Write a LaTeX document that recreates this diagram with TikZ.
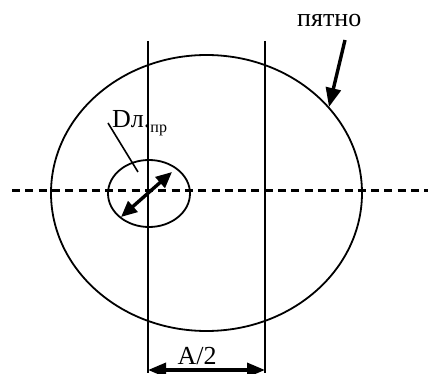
\documentclass[tikz,border=0pt]{standalone}
\usepackage{fontspec}
\setmainfont{Liberation Serif}
\usetikzlibrary{arrows.meta}
\tikzset{
  outline/.style={line width=1.8pt, black},
  axisline/.style={line width=3pt, black, dash pattern=on 8pt off 5.3pt},
  bigarrow/.style={line width=3.4pt, black, -{Triangle[length=19pt,width=15pt]}},
  dblarrow/.style={line width=3.4pt, black, {Triangle[length=16pt,width=14pt]}-{Triangle[length=16pt,width=14pt]}},
  leader/.style={line width=1.6pt, black},
  lbl/.style={inner sep=0pt, font=\fontsize{26}{26}\selectfont}
}
\begin{document}
\begin{tikzpicture}[x=1pt,y=-1pt]
\useasboundingbox (0,0) rectangle (432,374);
% big ellipse (spot)
\coordinate (spot) at (206.5,193);
\draw[outline] (spot) ellipse [x radius=155.5pt, y radius=138pt];
% small ellipse
\coordinate (sc) at (149,193.5);
\draw[outline] (sc) ellipse [x radius=41pt, y radius=33.5pt];
% dashed axis
\coordinate (axL) at (12,191);
\coordinate (axR) at (428,191);
\draw[axisline] (axL) -- (axR);
% vertical lines
\coordinate (v1t) at (148,41);
\coordinate (v1b) at (148,373);
\coordinate (v2t) at (265,41);
\coordinate (v2b) at (265,373);
\draw[outline] (v1t) -- (v1b);
\draw[outline] (v2t) -- (v2b);
% double arrow in small ellipse
\coordinate (d1) at (121,217);
\coordinate (d2) at (172,172);
\draw[dblarrow] (d1) -- (d2);
% label D
\node[lbl, anchor=base west] (dlab) at (112,128) {Dл.\raisebox{-5pt}{\fontsize{16}{16}\selectfont пр}};
\coordinate (l1) at (108,123);
\coordinate (l2) at (138,172);
\draw[leader] (l1) -- (l2);
% spot label
\node[lbl, anchor=base west] (plab) at (297,27) {пятно};
\coordinate (p1) at (345,40);
\coordinate (p2) at (329,107);
\draw[bigarrow] (p1) -- (p2);
% A/2
\coordinate (a1) at (148,370);
\coordinate (a2) at (265,370);
\draw[line width=3.4pt, black, {Triangle[length=18pt,width=14pt]}-{Triangle[length=18pt,width=14pt]}] (a1) -- (a2);
\node[lbl, anchor=base] (alab) at (197,365) {A/2};
\end{tikzpicture}
\end{document}
